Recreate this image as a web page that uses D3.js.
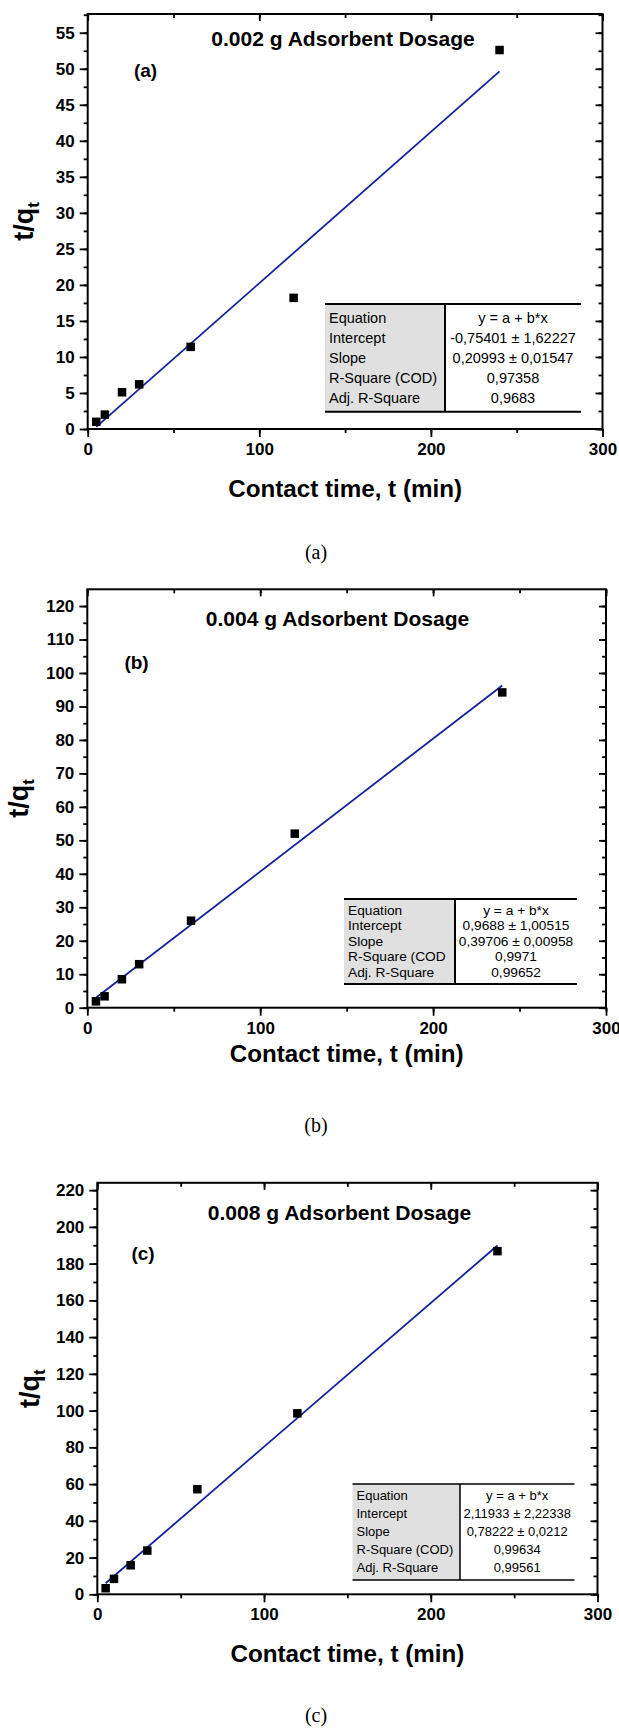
<!DOCTYPE html>
<html>
<head>
<meta charset="utf-8">
<script src="https://cdn.jsdelivr.net/npm/d3@7"></script>
<style>
  body { margin: 0; background: #fff; }
  svg { display: block; }
</style>
</head>
<body>
<svg width="619" height="1728"></svg>
<script>
// contact time (min), same for all three dosages
const times = [5, 10, 20, 30, 60, 120, 240];

// t/qt
const tqA = [1.0, 2.0, 5.1, 6.2, 11.4, 18.2, 52.6];
const tqB = [1.9, 3.4, 8.5, 13.0, 26.0, 52.0, 94.2];
const tqC = [3.3, 8.4, 15.8, 23.8, 57.2, 98.5, 186.8];

// linear fit y = a + b*x
const interceptA = -0.75401, slopeA = 0.20993;
const interceptB = 0.9688, slopeB = 0.39706;
const interceptC = 2.11933, slopeC = 0.78222;

const xTicks = [0, 100, 200, 300];
const yTicksA = [0, 5, 10, 15, 20, 25, 30, 35, 40, 45, 50, 55];
const yTicksB = [0, 10, 20, 30, 40, 50, 60, 70, 80, 90, 100, 110, 120];
const yTicksC = [0, 20, 40, 60, 80, 100, 120, 140, 160, 180, 200, 220];

const tableLabelsA = ['Equation', 'Intercept', 'Slope', 'R-Square (COD)', 'Adj. R-Square'];
const tableValuesA = ['y = a + b*x', '-0,75401 \u00b1 1,62227', '0,20993 \u00b1 0,01547', '0,97358', '0,9683'];
const tableLabelsB = ['Equation', 'Intercept', 'Slope', 'R-Square (COD', 'Adj. R-Square'];
const tableValuesB = ['y = a + b*x', '0,9688 \u00b1 1,00515', '0,39706 \u00b1 0,00958', '0,9971', '0,99652'];
const tableLabelsC = ['Equation', 'Intercept', 'Slope', 'R-Square (COD)', 'Adj. R-Square'];
const tableValuesC = ['y = a + b*x', '2,11933 \u00b1 2,22338', '0,78222 \u00b1 0,0212', '0,99634', '0,99561'];

const titles = ['0.002 g Adsorbent Dosage', '0.004 g Adsorbent Dosage', '0.008 g Adsorbent Dosage'];
const tags = ['(a)', '(b)', '(c)'];

const svg = d3.select('svg');
const SANS = '"Liberation Sans", Arial, Helvetica, sans-serif';
const SERIF = '"Liberation Serif", "Times New Roman", serif';
const lineColor = '#14229e';

const panels = [
  { tq: tqA, a: interceptA, b: slopeA, yTicks: yTicksA, yMax: 57.6, yMinor: 2.5,
    labels: tableLabelsA, values: tableValuesA,
    box: { left: 87.7, right: 602.5, top: 14, bottom: 429 },
    titleX: 343, titleY: 45.5, tagX: 145.5, tagY: 77,
    yLabelX: 33, xTitleY: 496.5, captionY: 559,
    table: { x0: 325, xd: 445, x1: 581, y0: 304, y1: 411.7, base: 322.5, step: 20.1, size: 14.5, sx: 1, lw: 2 } },
  { tq: tqB, a: interceptB, b: slopeB, yTicks: yTicksB, yMax: 125, yMinor: 5,
    labels: tableLabelsB, values: tableValuesB,
    box: { left: 87.3, right: 606, top: 589.3, bottom: 1007.7 },
    titleX: 337.5, titleY: 626, tagX: 136.5, tagY: 668.5,
    yLabelX: 28, xTitleY: 1062, captionY: 1132,
    table: { x0: 344, xd: 455, x1: 577, y0: 899, y1: 984, base: 914.5, step: 15.6, size: 12.5, sx: 1.1, lw: 2 } },
  { tq: tqC, a: interceptC, b: slopeC, yTicks: yTicksC, yMax: 224, yMinor: 10,
    labels: tableLabelsC, values: tableValuesC,
    box: { left: 97.3, right: 597.5, top: 1182.8, bottom: 1594.3 },
    titleX: 339.5, titleY: 1220, tagX: 143, tagY: 1260,
    yLabelX: 39, xTitleY: 1662, captionY: 1722,
    table: { x0: 352.5, xd: 460, x1: 574.4, y0: 1484, y1: 1580, base: 1500.4, step: 18, size: 13, sx: 1, lw: 1.5 } }
];

function addText(g, x, y, txt, o) {
  return g.append('text')
    .attr('transform', `translate(${x},${y}) scale(${o.sx || 1},1)`)
    .attr('text-anchor', o.anchor || 'middle')
    .attr('font-family', o.family || SANS)
    .attr('font-size', o.size)
    .attr('font-weight', o.weight || 'normal')
    .attr('fill', '#000')
    .text(txt);
}

function styleAxis(g) {
  g.select('.domain').remove();
  g.selectAll('.tick line').attr('stroke', '#000').attr('stroke-width', 1.8);
  g.selectAll('.tick text')
    .attr('font-family', SANS).attr('font-size', 17).attr('font-weight', 'bold').attr('fill', '#000');
}

panels.forEach((p, i) => {
  const { left, right, top, bottom } = p.box;
  const g = svg.append('g');

  const x = d3.scaleLinear().domain([0, 300]).range([left, right]);
  const y = d3.scaleLinear().domain([0, p.yMax]).range([bottom, top]);

  const xMinor = d3.range(0, 301, 50);
  const yMinor = d3.range(0, p.yMax, p.yMinor);

  // minor ticks (outside on left/bottom, inside on top/right)
  g.append('g').attr('transform', `translate(0,${bottom})`)
    .call(d3.axisBottom(x).tickValues(xMinor).tickSize(4).tickFormat('')).call(styleAxis);
  g.append('g').attr('transform', `translate(${left},0)`)
    .call(d3.axisLeft(y).tickValues(yMinor).tickSize(4).tickFormat('')).call(styleAxis);
  g.append('g').attr('transform', `translate(0,${top})`)
    .call(d3.axisTop(x).tickValues(xMinor).tickSize(-4).tickFormat('')).call(styleAxis);
  g.append('g').attr('transform', `translate(${right},0)`)
    .call(d3.axisRight(y).tickValues(yMinor).tickSize(-4).tickFormat('')).call(styleAxis);

  // major ticks
  g.append('g').attr('transform', `translate(0,${bottom})`)
    .call(d3.axisBottom(x).tickValues(xTicks).tickSize(8).tickPadding(6).tickFormat(d3.format('d')))
    .call(styleAxis);
  g.append('g').attr('transform', `translate(${left},0)`)
    .call(d3.axisLeft(y).tickValues(p.yTicks).tickSize(8).tickPadding(5).tickFormat(d3.format('d')))
    .call(styleAxis);
  g.append('g').attr('transform', `translate(0,${top})`)
    .call(d3.axisTop(x).tickValues(xTicks).tickSize(-7).tickFormat('')).call(styleAxis);
  g.append('g').attr('transform', `translate(${right},0)`)
    .call(d3.axisRight(y).tickValues(p.yTicks).tickSize(-7).tickFormat('')).call(styleAxis);

  // frame
  g.append('rect')
    .attr('x', left).attr('y', top)
    .attr('width', right - left).attr('height', bottom - top)
    .attr('fill', 'none').attr('stroke', '#000').attr('stroke-width', 2);

  // results table
  const t = p.table;
  const tg = g.append('g');
  tg.append('rect').attr('x', t.x0).attr('y', t.y0)
    .attr('width', t.xd - t.x0).attr('height', t.y1 - t.y0).attr('fill', '#e0e0e0');
  tg.append('rect').attr('x', t.xd).attr('y', t.y0)
    .attr('width', t.x1 - t.xd).attr('height', t.y1 - t.y0).attr('fill', '#fff');
  [t.y0, t.y1].forEach(yy => {
    tg.append('line').attr('x1', t.x0).attr('x2', t.x1).attr('y1', yy).attr('y2', yy)
      .attr('stroke', '#000').attr('stroke-width', t.lw);
  });
  tg.append('line').attr('x1', t.xd).attr('x2', t.xd).attr('y1', t.y0).attr('y2', t.y1)
    .attr('stroke', '#000').attr('stroke-width', t.lw);
  p.labels.forEach((s, k) => addText(tg, t.x0 + 4, t.base + k * t.step, s, { size: t.size, sx: t.sx, anchor: 'start' }));
  p.values.forEach((s, k) => addText(tg, (t.xd + t.x1) / 2, t.base + k * t.step, s, { size: t.size, sx: t.sx }));

  // fitted line
  const xFit = [times[0], times[times.length - 1]];
  g.append('path')
    .attr('d', d3.line().x(d => x(d)).y(d => y(p.a + p.b * d))(xFit))
    .attr('fill', 'none').attr('stroke', lineColor).attr('stroke-width', 1.8);

  // data points
  const ms = 8.5;
  g.selectAll('rect.pt').data(p.tq).join('rect')
    .attr('class', 'pt')
    .attr('x', (d, k) => x(times[k]) - ms / 2)
    .attr('y', d => y(d) - ms / 2)
    .attr('width', ms).attr('height', ms)
    .attr('fill', '#000');

  // texts
  addText(g, p.titleX, p.titleY, titles[i], { size: 19.5, weight: 'bold', sx: 1.08 });
  addText(g, p.tagX, p.tagY, tags[i], { size: 19, weight: 'bold' });
  addText(g, (left + right) / 2, p.xTitleY, 'Contact time, t (min)', { size: 23.5, weight: 'bold', sx: 1.03 });

  const yl = g.append('text')
    .attr('transform', `translate(${p.yLabelX},${(top + bottom) / 2}) rotate(-90)`)
    .attr('text-anchor', 'middle')
    .attr('font-family', SANS).attr('font-size', 27).attr('font-weight', 'bold');
  yl.append('tspan').text('t/q');
  yl.append('tspan').attr('font-size', 17).attr('dy', 6).text('t');

  addText(svg, 316, p.captionY, tags[i], { size: 20, family: SERIF });
});
</script>
</body>
</html>
